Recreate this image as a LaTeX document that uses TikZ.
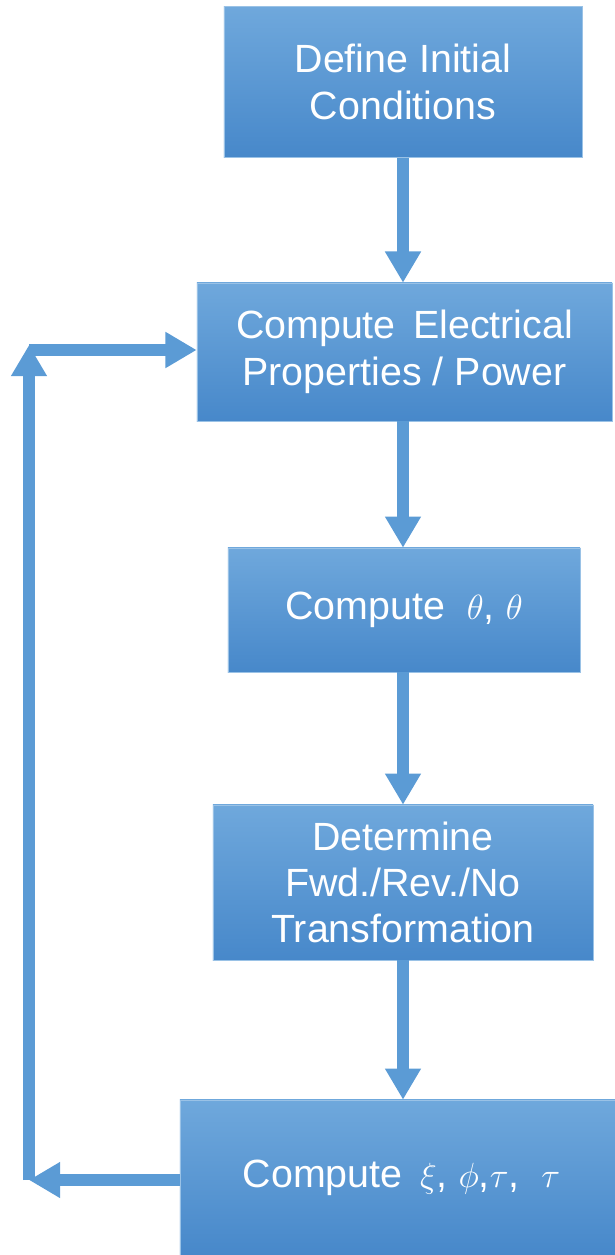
\documentclass[tikz,border=0pt]{standalone}
\usepackage{fontspec}
\setmainfont{Liberation Sans}
\usetikzlibrary{arrows.meta,positioning}
\definecolor{boxtop}{HTML}{6FA8DC}
\definecolor{boxbot}{HTML}{4788CA}
\definecolor{flow}{HTML}{5B9BD5}

\begin{document}
\begin{tikzpicture}[x=0.025cm,y=-0.025cm,
  stepbox/.style={top color=boxtop,bottom color=boxbot,draw=boxtop!70!white,thin,
    text=white,align=center,inner sep=0pt,font=\fontsize{28}{33}\selectfont},
  arrow/.style={-{Triangle[length=0.78cm,width=0.85cm]},line width=0.28cm,draw=flow}]
  \useasboundingbox (0,0) rectangle (615,1255);
  % process steps
  \node[stepbox,minimum width=8.95cm,minimum height=3.775cm] (init) at (403,82) {Define Initial\\Conditions};
  \node[stepbox,minimum width=10.375cm,minimum height=3.45cm] (elec) at (404.5,352) {Compute\ \,Electrical\\Properties / Power};
  \node[stepbox,minimum width=8.8cm,minimum height=3.1cm] (angle) at (404,610) {Compute\ \ $\theta$, $\theta$};
  \node[stepbox,minimum width=9.5cm,minimum height=3.875cm] (dir) at (403,882.5) {Determine\\Fwd./Rev./No\\Transformation};
  \node[stepbox,minimum width=10.875cm,minimum height=3.875cm] (comp) at (397.5,1177.5) {\hspace{0.2cm}Compute\ \,$\xi$, $\phi$,$\tau$,\ \ $\tau$};
  % flow axis and feedback corners
  \coordinate (axis) at (403,0);
  \coordinate (lowc) at (29,1180);
  \coordinate (uptip) at (29,345);
  \coordinate (upc) at (29,350);
  % main flow
  \draw[arrow] (init.south -| axis) -- (elec.north -| axis);
  \draw[arrow] (elec.south -| axis) -- (angle.north -| axis);
  \draw[arrow] (angle.south -| axis) -- (dir.north -| axis);
  \draw[arrow] (dir.south -| axis) -- (comp.north -| axis);
  % loop back
  \draw[arrow] (comp.west |- lowc) -- (lowc);
  \draw[arrow] (lowc) -- (uptip);
  \draw[arrow] (upc) -- (upc -| elec.west);
\end{tikzpicture}
\end{document}
